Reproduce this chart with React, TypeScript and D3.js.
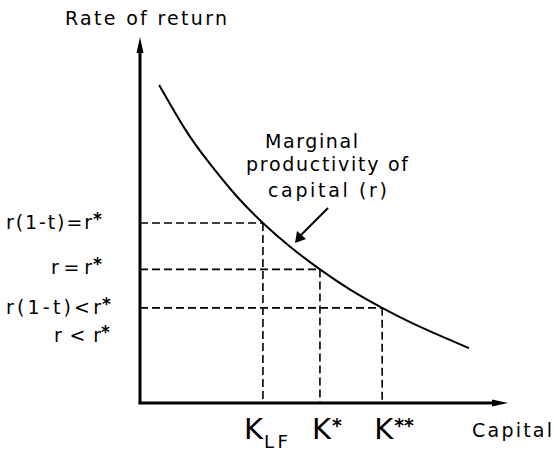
import React from "react";
import * as d3 from "d3";

// Marginal productivity of capital curve
const capitalPts = [5.2, 12.2, 18.5, 26.1, 33.4, 40.8, 48.9, 57.1, 65.8, 73.4, 81.5, 89.4];
const ratePts = [86.9, 74.9, 66.0, 56.7, 49.2, 42.7, 36.5, 31.0, 26.0, 22.1, 18.4, 15.0];

// Equilibrium points (capital, rate)
const eqCapital = [33.4, 48.9, 65.8];
const eqRate = [49.2, 36.5, 26.0];

// Rate labels on the vertical axis
const rateLabels = ["r(1-t)=r", "r = r", "r(1-t)<r", "r < r"];
const rateLabelValues = [49.2, 37.0, 26.0, 18.3];

// Capital labels
const capLabels = ["K", "K", "K"];
const capSubs = ["LF", "", ""];
const capStars = ["", "*", "**"];

const W = 554;
const H = 453;
const FONT = "DejaVu Sans, sans-serif";

export default function App() {
  const x = d3.scaleLinear().domain([0, 100]).range([140, 508]);
  const y = d3.scaleLinear().domain([0, 100]).range([403, 37]);

  const curve = d3
    .line<number>()
    .x((_, i) => x(capitalPts[i]))
    .y((d) => y(d))
    .curve(d3.curveNatural)(ratePts) as string;

  const rateLayout = [
    { x0: 6, len: 86, sx: 93, dy: 6 },
    { x0: 51, len: 41, sx: 93, dy: 6 },
    { x0: 6, len: 95, sx: 102, dy: 6 },
    { x0: 54, len: 47, sx: 101, dy: 6 },
  ];

  const capLayout = [
    { kx: -19, star: 0 },
    { kx: -8, star: 17 },
    { kx: -8, star: 16 },
  ];

  return (
    <svg
      width={W}
      height={H}
      viewBox={`0 0 ${W} ${H}`}
      style={{ position: "absolute", left: 0, top: 0, background: "#fff" }}
    >
      <rect x={0} y={0} width={W} height={H} fill="#fff" />
      <text
        x={65}
        y={25}
        fontFamily={FONT}
        fontSize={19}
        textLength={162}
        lengthAdjust="spacing"
        fill="#000"
      >
        Rate of return
      </text>

      {/* dashed guides */}
      {eqCapital.map((k, i) => (
        <g key={i} stroke="#000" strokeWidth={1.6} strokeDasharray="8,4" fill="none">
          <line x1={x(0)} y1={y(eqRate[i])} x2={x(k)} y2={y(eqRate[i])} />
          <line x1={x(k)} y1={y(eqRate[i])} x2={x(k)} y2={y(0)} />
        </g>
      ))}

      {/* axes */}
      <line x1={x(0)} y1={y(0)} x2={x(0)} y2={y(100) + 10} stroke="#000" strokeWidth={3} />
      <path
        d={`M${x(0)},${y(100)} L${x(0) - 3.5},${y(100) + 16} L${x(0) + 3.5},${y(100) + 16} Z`}
        fill="#000"
      />
      <line x1={x(0) - 1.5} y1={y(0)} x2={x(100) - 10} y2={y(0)} stroke="#000" strokeWidth={3} />
      <path
        d={`M${x(100)},${y(0)} L${x(100) - 16},${y(0) - 3.5} L${x(100) - 16},${y(0) + 3.5} Z`}
        fill="#000"
      />

      {/* curve */}
      <path d={curve} fill="none" stroke="#000" strokeWidth={2} />

      {/* curve annotation */}
      <text x={265} y={148} fontFamily={FONT} fontSize={19} textLength={93} lengthAdjust="spacing">
        Marginal
      </text>
      <text x={246} y={171} fontFamily={FONT} fontSize={19} textLength={162} lengthAdjust="spacing">
        productivity of
      </text>
      <text x={268} y={197} fontFamily={FONT} fontSize={19} textLength={119} lengthAdjust="spacing">
        capital (r)
      </text>
      <line x1={328} y1={208} x2={300} y2={236} stroke="#000" strokeWidth={2} />
      <path d="M295,243 L297,231 L306,239 Z" fill="#000" />

      {/* rate labels */}
      {rateLabels.map((lab, i) => {
        const L = rateLayout[i];
        const yy = y(rateLabelValues[i]) + L.dy;
        return (
          <g key={i} fontFamily={FONT} fill="#000">
            <text x={L.x0} y={yy} fontSize={19} textLength={L.len} lengthAdjust="spacing">
              {lab}
            </text>
            <text x={L.sx} y={yy - 4} fontSize={17} fontWeight="bold">
              *
            </text>
          </g>
        );
      })}

      {/* capital labels */}
      {eqCapital.map((k, i) => {
        const L = capLayout[i];
        const kx = x(k) + L.kx;
        return (
          <g key={i} fontFamily={FONT} fill="#000">
            <text x={kx} y={439} fontSize={29}>
              {capLabels[i]}
            </text>
            {capSubs[i] && (
              <text x={kx + 20} y={448} fontSize={18} textLength={24} lengthAdjust="spacing">
                {capSubs[i]}
              </text>
            )}
            {capStars[i] && (
              <text x={kx + 20} y={432} fontSize={19} fontWeight="bold" letterSpacing={0}>
                {capStars[i]}
              </text>
            )}
          </g>
        );
      })}

      <text x={472} y={437} fontFamily={FONT} fontSize={19} textLength={80} lengthAdjust="spacing">
        Capital
      </text>
    </svg>
  );
}
